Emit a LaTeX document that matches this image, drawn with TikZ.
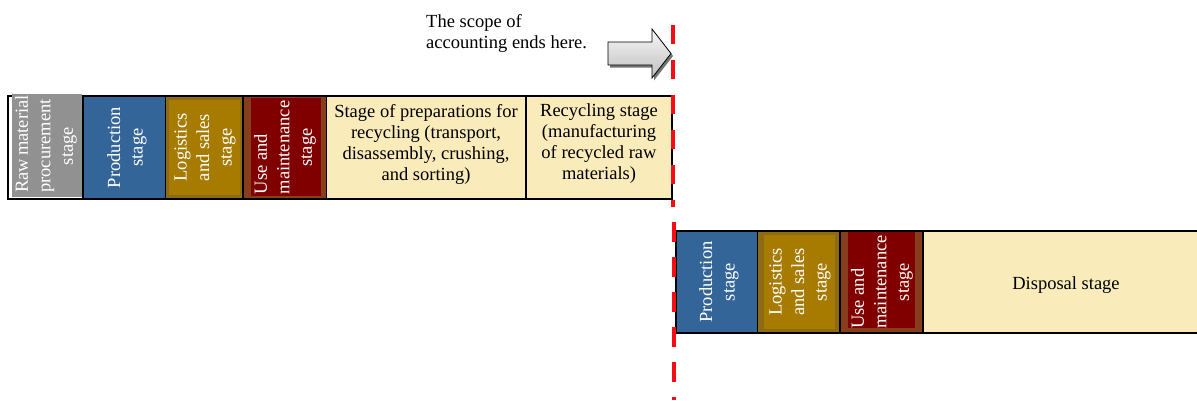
\documentclass[tikz,border=0pt]{standalone}
\usepackage{fontspec}
\setmainfont{Liberation Serif}
\usetikzlibrary{calc}
\newlength\stagelinew
\definecolor{rawgray}{RGB}{145,145,145}
\definecolor{prodblue}{RGB}{52,101,153}
\definecolor{logfill}{RGB}{166,123,0}
\definecolor{logedge}{RGB}{140,106,22}
\definecolor{usefill}{RGB}{128,0,0}
\definecolor{useedge}{RGB}{135,62,28}
\definecolor{cream}{RGB}{250,235,186}
\definecolor{cutred}{RGB}{245,12,20}
\tikzset{
  vlabel/.style={rotate=90, align=center, text=white, inner sep=0pt,
                 font=\fontsize{18.5}{22.5}\selectfont},
  hlabel/.style={align=center, text=black, inner sep=0pt,
                 font=\fontsize{18.5}{21}\selectfont},
  rowframe/.style={draw=black, line width=2pt},
  divider/.style={draw=black, line width=1.6pt},
  cutline/.style={draw=cutred, line width=4pt},
}
\begin{document}
\begin{tikzpicture}[x=1pt,y=-1pt]
\useasboundingbox (0,0) rectangle (1197,400);

% ---------- upper chain of stages ----------
\fill[prodblue] (83,97) rectangle (165,198);
\fill[logedge] (166,97) rectangle (243,198);
\fill[logfill] (169,100) rectangle (240,195);
\fill[useedge] (243,97) rectangle (326,198);
\fill[usefill] (251,98) rectangle (321,196);
\fill[cream] (326,97) rectangle (672,198);
\draw[rowframe] (8,96) rectangle (672,199);
\foreach \x in {83,165.5,243,326.5,526}
  \draw[divider] (\x,97) -- (\x,198);
\fill[rawgray] (12,94) rectangle (82,197);

\node[vlabel] (raw) at (46,146)
  {{\settowidth{\stagelinew}{procurement}\makebox[\stagelinew][s]{Raw material}}\\procurement\\stage};
\node[vlabel] (prodA) at (127,147.5) {Production\\stage};
\node[vlabel] (logA) at (205,147.5) {Logistics\\and sales\\stage};
\node[vlabel] (useA) at (285,147.5)
  {{\settowidth{\stagelinew}{maintenance}\makebox[\stagelinew][l]{Use and}}\\maintenance\\stage};
\node[hlabel] (prep) at (426,144)
  {Stage of preparations for\\recycling (transport,\\disassembly, crushing,\\and sorting)};
\node[hlabel] (recyc) at (599,144)
  {Recycling stage\\(manufacturing\\of recycled raw\\materials)};

% ---------- lower chain of stages ----------
\fill[prodblue] (676,232) rectangle (757,332);
\fill[logedge] (758,232) rectangle (840,332);
\fill[logfill] (764,235) rectangle (835,329);
\fill[useedge] (840,232) rectangle (923,332);
\fill[usefill] (848,232) rectangle (915,328);
\fill[cream] (923,232) rectangle (1197,332);
\draw[rowframe] (1205,231) -- (676,231) -- (676,333) -- (1205,333);
\foreach \x in {757.5,840,923}
  \draw[divider] (\x,232) -- (\x,332);

\node[vlabel] (prodB) at (719,282) {Production\\stage};
\node[vlabel] (logB) at (800,282) {Logistics\\and sales\\stage};
\node[vlabel] (useB) at (882,282)
  {{\settowidth{\stagelinew}{maintenance}\makebox[\stagelinew][l]{Use and}}\\maintenance\\stage};
\node[hlabel] (disp) at (1066,285) {Disposal stage};

% ---------- boundary of the accounting scope ----------
\node[hlabel, align=left, anchor=north west] (scope) at (426,14)
  {The scope of\\accounting ends here.};

\fill[black!55, shift={(2,2.5)}]
  (608,42) -- (652,42) -- (652,29) -- (671,53.5) -- (652,78) -- (652,65) -- (608,65) -- cycle;
\draw[black, line width=0.8pt, top color=gray!6, bottom color=gray!50]
  (608,42) -- (652,42) -- (652,29) -- (671,53.5) -- (652,78) -- (652,65) -- (608,65) -- cycle;

\coordinate (cutA) at (673,25);
\coordinate (cutB) at (673,207);
\coordinate (cutC) at (674,222);
\coordinate (cutD) at (674,400);
\draw[cutline, dash pattern=on 19pt off 16pt] (cutA) -- (cutB);
\draw[cutline, dash pattern=on 20pt off 15pt] (cutC) -- (cutD);
\end{tikzpicture}
\end{document}
